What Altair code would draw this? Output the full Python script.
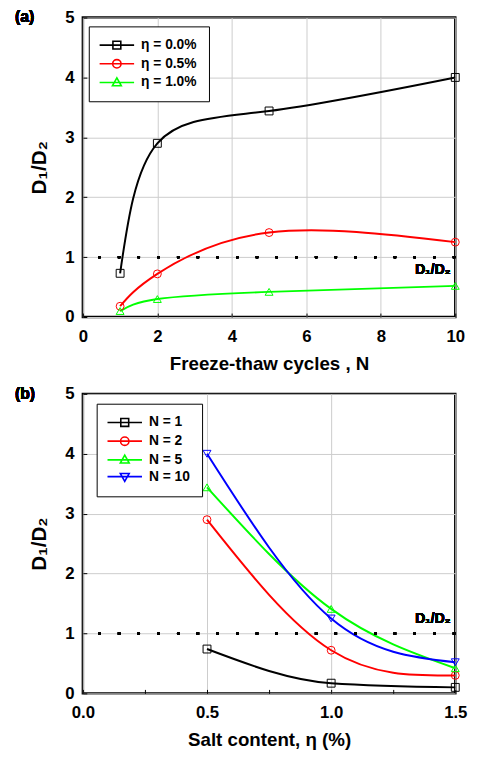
import altair as alt
import pandas as pd

# ---------------- data ----------------
cycles = [1, 2, 5, 10]
eta_labels = ["η = 0.0%", "η = 0.5%", "η = 1.0%"]
ratio_eta00 = [0.73, 2.90, 3.44, 4.00]
ratio_eta05 = [0.18, 0.72, 1.41, 1.25]
ratio_eta10 = [0.10, 0.30, 0.42, 0.52]

salt = [0.5, 1.0, 1.5]
n_labels = ["N = 1", "N = 2", "N = 5", "N = 10"]
ratio_n1 = [0.74, 0.17, 0.10]
ratio_n2 = [2.90, 0.72, 0.30]
ratio_n5 = [3.44, 1.41, 0.42]
ratio_n10 = [4.00, 1.25, 0.52]

ref_value = 1.0
ref_label = "D₁/D₂"

# ---------------- style ----------------
FONT = "Liberation Sans"
colors_a = ["#000000", "#ff0000", "#00ff00"]
colors_b = ["#000000", "#ff0000", "#00ff00", "#0000ff"]
shapes_b = ["square", "circle", "triangle-up", "triangle-down"]
shapes_a = shapes_b[:3]
interp_a = ["natural", "natural", "natural"]
interp_b = ["monotone", "natural", "natural", "natural"]
LINE = "M-3.5,0H3.5"
leg_paths_b = [
    LINE + "M-0.8,-0.8H0.8V0.8H-0.8Z",
    LINE + "M-0.85,0A0.85,0.85,0,1,0,0.85,0A0.85,0.85,0,1,0,-0.85,0Z",
    LINE + "M0,-0.95L0.9,0.65H-0.9Z",
    LINE + "M0,0.95L0.9,-0.65H-0.9Z",
]
leg_paths_a = leg_paths_b[:3]

W, H = 378, 304

df_a = pd.DataFrame({
    "x": cycles * 3,
    "ratio": ratio_eta00 + ratio_eta05 + ratio_eta10,
    "series": sum([[l] * len(cycles) for l in eta_labels], []),
})
df_b = pd.DataFrame({
    "x": salt * 4,
    "ratio": ratio_n1 + ratio_n2 + ratio_n5 + ratio_n10,
    "series": sum([[l] * len(salt) for l in n_labels], []),
})

y_axis = alt.Axis(
    values=[i * 0.5 for i in range(11)],
    labelExpr="datum.value % 1 == 0 ? format(datum.value, 'd') : ''",
    gridOpacity={"condition": {"test": "datum.value % 1 == 0", "value": 1}, "value": 0},
    tickSize={"expr": "-4"},
    labelPadding=13,
    title=ref_label,
    titleFontSize=21,
    titlePadding=15,
)


def panel(df, xaxis, xdomain, labels, colors, shapes, interps, paths, legend_xy, text_xy, tag):
    xenc = alt.X("x:Q", scale=alt.Scale(domain=xdomain, nice=False, zero=False), axis=xaxis)
    yenc = alt.Y("ratio:Q", scale=alt.Scale(domain=[0, 5], nice=False, zero=False), axis=y_axis)
    base = alt.Chart(df)
    layers = []
    for lab, col, itp in zip(labels, colors, interps):
        layers.append(
            base.transform_filter(alt.datum.series == lab)
            .mark_line(interpolate=itp, strokeWidth=2, color=col)
            .encode(x=xenc, y=yenc)
        )
    for lab, col, shp in zip(labels, colors, shapes):
        layers.append(
            base.transform_filter(alt.datum.series == lab)
            .mark_point(shape=shp, filled=False, size=64, strokeWidth=1, color=col, opacity=1)
            .encode(x=xenc, y=yenc)
        )
    leg = alt.Legend(
        title=None, orient="none", legendX=legend_xy[0], legendY=legend_xy[1],
        padding=12, strokeColor="black", fillColor="white", cornerRadius=0,
        symbolSize=100, symbolStrokeWidth=1.6, symbolOpacity=1,
        symbolOffset=9.5, labelOffset=17.5, rowPadding=3,
        labelFont=FONT, labelFontSize=14, labelFontWeight="bold", labelColor="black",
    )
    layers.append(
        base.mark_point(filled=False, opacity=0).encode(
            x=xenc, y=yenc,
            color=alt.Color("series:N", scale=alt.Scale(domain=labels, range=colors), legend=leg),
            shape=alt.Shape("series:N", scale=alt.Scale(domain=labels, range=paths), legend=leg),
        )
    )
    layers.append(
        base.mark_rule(strokeDash=[2.5, 17.5], strokeWidth=2.5, color="black").encode(y=alt.datum(ref_value))
    )
    layers.append(
        base.mark_text(text=ref_label, font=FONT, fontSize=14, fontWeight="bold", color="black")
        .encode(x=alt.datum(text_xy[0]), y=alt.datum(text_xy[1]))
    )
    layers.append(
        base.mark_text(text=tag, font=FONT, fontSize=16, fontWeight="bold", color="black", align="left", baseline="top")
        .encode(x=alt.value(-69), y=alt.value(-8))
    )
    return alt.layer(*layers).properties(width=W, height=H)


x_axis_a = alt.Axis(
    values=list(range(11)),
    labelExpr="datum.value % 2 == 0 ? datum.label : ''",
    gridOpacity={"condition": {"test": "datum.value % 2 == 0", "value": 1}, "value": 0},
    tickSize={"expr": "-4"},
    labelPadding=16,
    title="Freeze-thaw cycles ,  N",
    titlePadding=10,
)
x_axis_b = alt.Axis(
    values=[i * 0.25 for i in range(7)],
    labelExpr="abs(datum.value*2 - round(datum.value*2)) < 0.000001 ? format(datum.value, '.1f') : ''",
    gridOpacity={"condition": {"test": "abs(datum.value*2 - round(datum.value*2)) < 0.000001", "value": 1}, "value": 0},
    tickSize={"expr": "-4"},
    labelPadding=16,
    title="Salt content, η  (%)",
    titlePadding=10,
)

chart_a = panel(df_a, x_axis_a, [0, 10], eta_labels, colors_a, shapes_a, interp_a, leg_paths_a, (6, 9), (9.4, 0.79), "(a)")
chart_b = panel(df_b, x_axis_b, [0, 1.5], n_labels, colors_b, shapes_b, interp_b, leg_paths_b, (14, 10), (1.41, 1.24), "(b)")

chart = (
    alt.vconcat(chart_a, chart_b, spacing=8)
    .resolve_scale(color="independent", shape="independent")
    .properties(padding={"left": 5, "top": -7, "right": 5, "bottom": 5})
    .configure_view(stroke="black", strokeWidth=2.5)
    .configure_axis(
        labelFont=FONT, labelFontSize=17, labelFontWeight="bold", labelColor="black",
        titleFont=FONT, titleFontSize=19, titleFontWeight="bold", titleColor="black",
        domain=False, gridColor="#cccccc", gridWidth=1, tickColor="black", tickWidth=1,
        labelFlush=False, labelOverlap=False,
    )
)
chart.save("out.html", embed_options={"renderer": "svg", "actions": False})
